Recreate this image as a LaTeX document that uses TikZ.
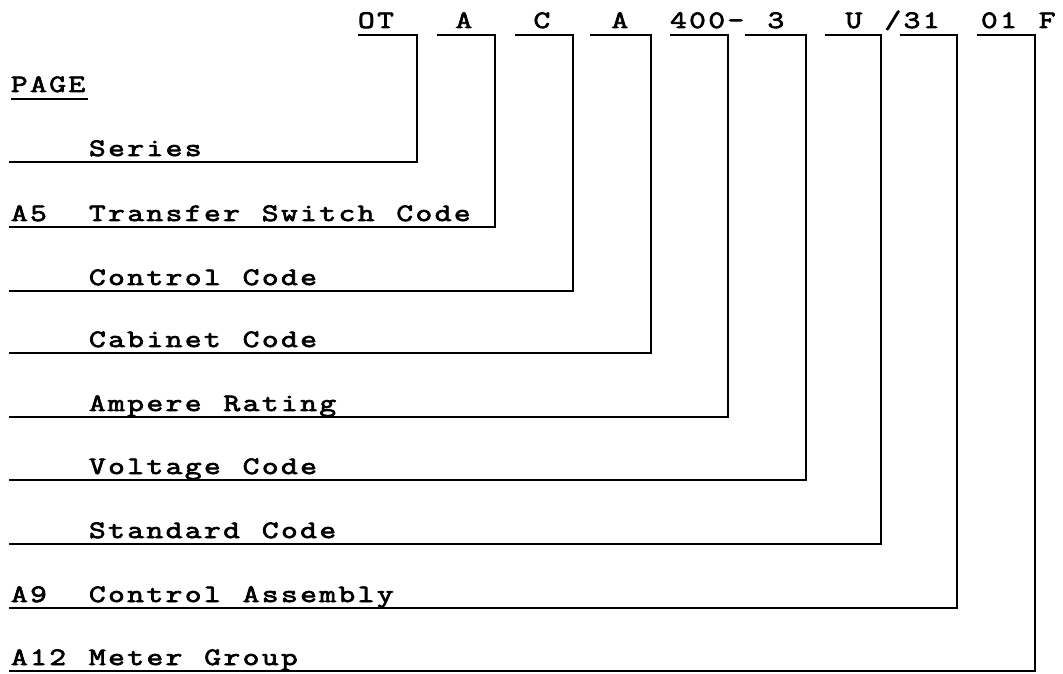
\documentclass[tikz,border=0pt]{standalone}
\usepackage{fontspec}
\newfontfamily\codefont{Latin Modern Mono}[LetterSpace=9.75, WordSpace=1.143, FakeStretch=1.3, FakeBold=3]
\usepackage{tikz}
\usetikzlibrary{positioning}

\newcommand{\pgref}[1]{\makebox[78pt][l]{#1}}

\begin{document}
\begin{tikzpicture}[x=1pt, y=1pt,
    lbl/.style={font=\fontsize{25}{28}\codefont, inner sep=0pt, outer sep=0pt, anchor=base west},
    rowlbl/.style={font=\fontsize{25}{28}\codefont, anchor=south west, inner xsep=2pt, inner ysep=6pt, outer sep=0pt, text depth=0pt},
    conn/.style={line width=1.8pt}]
    \useasboundingbox (0, 0) rectangle (1063, 673);

    % model number along the top
    \node[lbl] (ot)  at (358, 645) {OT};
    \node[lbl] (tsw) at (455.5, 645) {A};
    \node[lbl] (ctl) at (533.5, 645) {C};
    \node[lbl] (cab) at (611.5, 645) {A};
    \node[lbl] (amp) at (670, 645) {400-};
    \node[lbl] (vlt) at (767.5, 645) {3};
    \node[lbl] (std) at (845.5, 645) {U};
    \node[lbl] (cas) at (884.5, 645) {/31};
    \node[lbl] (mtr) at (981, 645) {01 F};

    % start of each underline
    \coordinate (ot-s)  at (358, 638);
    \coordinate (tsw-s) at (437, 638);
    \coordinate (ctl-s) at (515, 638);
    \coordinate (cab-s) at (590, 638);
    \coordinate (amp-s) at (670, 638);
    \coordinate (vlt-s) at (745, 638);
    \coordinate (std-s) at (825, 638);
    \coordinate (cas-s) at (900, 638);
    \coordinate (mtr-s) at (977, 638);

    % page column and descriptions
    \node[lbl] (page) at (11, 581) {PAGE};
    \draw[conn] ([yshift=-7pt]page.base west) -- ++(77, 0);

    \node[rowlbl] (r-ser) at (9, 511) {\pgref{}Series};
    \node[rowlbl] (r-tsw) at (9, 446) {\pgref{A5}Transfer Switch Code};
    \node[rowlbl] (r-ctl) at (9, 382) {\pgref{}Control Code};
    \node[rowlbl] (r-cab) at (9, 320) {\pgref{}Cabinet Code};
    \node[rowlbl] (r-amp) at (9, 256) {\pgref{}Ampere Rating};
    \node[rowlbl] (r-vlt) at (9, 193) {\pgref{}Voltage Code};
    \node[rowlbl] (r-std) at (9, 129) {\pgref{}Standard Code};
    \node[rowlbl] (r-cas) at (9, 65) {\pgref{A9}Control Assembly};
    \node[rowlbl] (r-mtr) at (9, 2) {\pgref{A12}Meter Group};

    % leaders
    \draw[conn] (ot-s)  -- ++(59, 0) |- (r-ser.south west);
    \draw[conn] (tsw-s) -- ++(58, 0) |- (r-tsw.south west);
    \draw[conn] (ctl-s) -- ++(58, 0) |- (r-ctl.south west);
    \draw[conn] (cab-s) -- ++(61, 0) |- (r-cab.south west);
    \draw[conn] (amp-s) -- ++(58, 0) |- (r-amp.south west);
    \draw[conn] (vlt-s) -- ++(61, 0) |- (r-vlt.south west);
    \draw[conn] (std-s) -- ++(56, 0) |- (r-std.south west);
    \draw[conn] (cas-s) -- ++(57, 0) |- (r-cas.south west);
    \draw[conn] (mtr-s) -- ++(58, 0) |- (r-mtr.south west);
\end{tikzpicture}
\end{document}
